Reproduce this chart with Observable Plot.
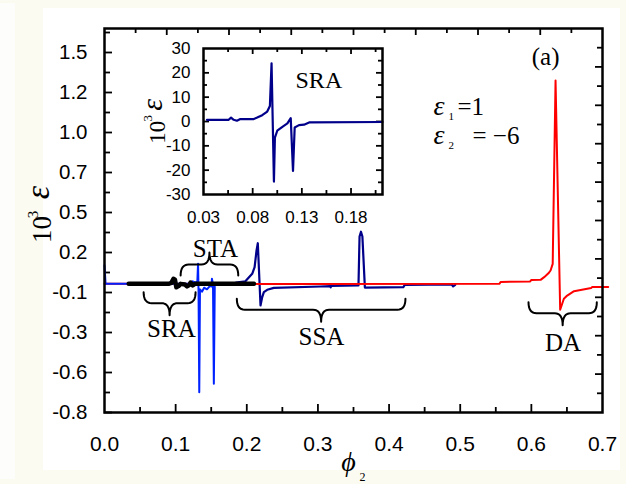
<!DOCTYPE html>
<html><head><meta charset="utf-8">
<script src="https://cdn.jsdelivr.net/npm/d3@7"></script>
<script src="https://cdn.jsdelivr.net/npm/@observablehq/plot@0.6"></script>
<style>
html,body{margin:0;padding:0;}
body{width:626px;height:484px;background:#fbfbf1;position:relative;overflow:hidden;}
#leftstrip{position:absolute;left:0;top:3px;width:15px;height:476px;background:#fdfdfb;}
#panel{position:absolute;left:43px;top:8px;width:577px;height:462px;background:#fff;}
#main,#inset{position:absolute;left:0;top:0;}
</style></head><body>
<div id="leftstrip"></div><div id="panel"></div>
<div id="main"></div><div id="inset"></div>
<script>
// ---------------- data ----------------
const redSeries = [[0,0.004],[0.3,0.003],[0.555,0.004],[0.557,0.016],[0.598,0.018],[0.600,0.028],[0.613,0.029],[0.618,0.046],[0.624,0.07],[0.627,0.0875],[0.630,0.129],[0.634,1.275],[0.6405,-0.158],[0.6457,-0.089],[0.6504,-0.069],[0.660,-0.042],[0.6785,-0.027],[0.684,-0.022],[0.6856,-0.016],[0.708,-0.015]];
const navySeries = [[0.185,0.012],[0.198,0.02],[0.2076,0.067],[0.211,0.108],[0.2137,0.2125],[0.2155,0.258],[0.2193,-0.131],[0.2217,-0.079],[0.224,-0.048],[0.2287,-0.033],[0.238,-0.021],[0.3036,-0.0125],[0.3175,-0.01],[0.318,-0.018],[0.3185,-0.008],[0.357,-0.006],[0.3585,0.3],[0.3605,0.33],[0.3625,0.3],[0.366,-0.019],[0.42,-0.017],[0.422,-0.002],[0.488,0.0],[0.49,-0.012],[0.493,-0.002]];
const blueSeries = [[0,0.12],[0.0015,0.004],[0.12,0.004],[0.124,0.02],[0.128,0.012],[0.1305,0.02],[0.1315,0.13],[0.1322,-0.05],[0.1332,-0.673],[0.1342,-0.03],[0.137,-0.045],[0.14,-0.02],[0.144,-0.03],[0.148,-0.01],[0.1505,-0.012],[0.151,0.036],[0.1525,0.0],[0.1537,-0.62],[0.155,-0.005],[0.16,0.002],[0.185,0.004]];
const blackSeries = [[0.034,0.004],[0.09,0.004],[0.094,0.01],[0.097,0.036],[0.099,0.03],[0.101,-0.017],[0.104,-0.01],[0.107,0.004],[0.113,0.0],[0.116,-0.012],[0.119,-0.004],[0.121,0.012],[0.124,-0.005],[0.127,0.004],[0.21,0.004]];
const insetSeries = [[0.0335,0.7],[0.0556,0.7],[0.058,1.6],[0.0607,0.7],[0.064,0.3],[0.0675,1.0],[0.0811,1.0],[0.0846,1.6],[0.0897,2.6],[0.0948,4.1],[0.0975,6.4],[0.0992,23.9],[0.1016,-24.7],[0.1026,-6.6],[0.105,-3.8],[0.1102,-2.2],[0.1153,-0.8],[0.1187,1.4],[0.121,-20.3],[0.1227,-2.5],[0.1271,-1.5],[0.1322,-1.3],[0.1374,-0.4],[0.212,-0.2]];

// ticks and tick labels
const xTicks = [0,0.1,0.2,0.3,0.4,0.5,0.6,0.7];
const xTickLabels = ["0.0","0.1","0.2","0.3","0.4","0.5","0.6","0.7"];
const yTicks = [-0.8,-0.55,-0.3,-0.05,0.2,0.45,0.7,0.95,1.2,1.45];
const yTickLabels = ["-0.8","-0.6","-0.3","-0.1","0.2","0.5","0.7","1.0","1.2","1.5"];
const insetXTicks = [0.03,0.08,0.13,0.18];
const insetXTickLabels = ["0.03","0.08","0.13","0.18"];
const insetYTicks = [-30,-20,-10,0,10,20,30];
const insetYTickLabels = ["-30","-20","-10","0","10","20","30"];

// annotations (data coordinates)
const braces = [
  {name:"SRA", x1:0.055, x2:0.128, y:-0.048, dir:-1},
  {name:"STA", x1:0.107, x2:0.188, y:0.056, dir:1},
  {name:"SSA", x1:0.186, x2:0.423, y:-0.089, dir:-1},
  {name:"DA",  x1:0.596, x2:0.692, y:-0.111, dir:-1}
];
const braceLabels = [
  {label:"SRA", x:0.094, y:-0.329},
  {label:"STA", x:0.156, y:0.171},
  {label:"SSA", x:0.305, y:-0.381},
  {label:"DA",  x:0.6445, y:-0.417}
];
const panelLabel = [{label:"(a)", x:0.62, y:1.369}];
const epsLines = [
  {eps:"ε", sub:"1", rhs:"=1",   x:0.4625, y:1.0625, rhsX:0.4962},
  {eps:"ε", sub:"2", rhs:"= −6", x:0.4625, y:0.881,  rhsX:0.5173}
];
const yTitle = {base:"10", sup:"3", sym:"ε", baseX:-0.0745, baseY:0.344, supX:-0.0928, supY:0.4375, symX:-0.0787, symY:0.575};
const xTitle = {sym:"ϕ", sub:"2", x:0.343, y:-1.1625, subX:0.3585, subY:-1.231};
const insetLabel = [{label:"SRA", x:0.1473, y:13.85}];
const insetYTitle = {base:"10", sup:"3", sym:"ε", baseX:-0.00916, baseY:-4.44, supX:-0.02245, supY:1.315, symX:-0.01223, symY:6.86};

// ---------------- drawing ----------------
const W = 626, H = 484;
const M = {left:104, right:24, top:28, bottom:72};
const FW = W - M.left - M.right, FH = H - M.top - M.bottom;
const serif = "'Liberation Serif','Times New Roman',serif";
const sans = "'Liberation Sans',Arial,sans-serif";
const xLab = new Map(xTicks.map((d,i)=>[d,xTickLabels[i]]));
const yLab = new Map(yTicks.map((d,i)=>[d,yTickLabels[i]]));
const pt = {x:d=>d[0], y:d=>d[1]};

function bracePoints(b){
  const kx = 0.7/FW, ky = 2.4/FH;
  const r = 8*kx, h1 = 11*ky*b.dir, h2 = 12*ky*b.dir;
  const xc = (b.x1+b.x2)/2, yE = b.y, yM = yE+h1, yT = yM+h2;
  const quad = (p0,p1,p2,n=8)=>d3.range(n+1).map(i=>{const t=i/n;return [(1-t)**2*p0[0]+2*(1-t)*t*p1[0]+t*t*p2[0],(1-t)**2*p0[1]+2*(1-t)*t*p1[1]+t*t*p2[1]];});
  return [
    ...quad([b.x1,yE],[b.x1,yM],[b.x1+r,yM]),
    ...quad([xc-r,yM],[xc,yM],[xc,yT]),
    ...quad([xc,yT],[xc,yM],[xc+r,yM]),
    ...quad([b.x2-r,yM],[b.x2,yM],[b.x2,yE])
  ].map(p=>({x:p[0], y:p[1], name:b.name}));
}
const bracePts = braces.flatMap(bracePoints);

// inward frame ticks
const ts = {stroke:"black", strokeWidth:1.8};
const leftMaj = yTicks, leftMin = yTicks.map(d=>d+0.125);
const rightT = d3.range(1,20).map(k=>-0.8+0.12*k);
const botT = d3.range(1,14).map(k=>k*0.05);
const topT = d3.range(1,16).map(k=>k*0.04375);

const main = Plot.plot({
  width:W, height:H, marginLeft:M.left, marginRight:M.right, marginTop:M.top, marginBottom:M.bottom,
  style:{background:"transparent", fontFamily:sans, fontSize:"20px", color:"black", overflow:"visible"},
  x:{domain:[0,0.7]}, y:{domain:[-0.8,1.6]},
  marks:[
    Plot.axisX({ticks:xTicks, tickSize:0, tickPadding:24, tickFormat:d=>xLab.get(d), fontSize:21, fontFamily:sans, label:null}),
    Plot.axisY({ticks:yTicks, tickSize:0, tickPadding:17, tickFormat:d=>yLab.get(d), fontSize:20.5, fontFamily:sans, label:null}),
    Plot.tickY(leftMaj, {y:d=>d, insetRight:FW-8, ...ts}),
    Plot.tickY(leftMin, {y:d=>d, insetRight:FW-6, ...ts}),
    Plot.tickY(rightT.filter((d,i)=>i%2===1), {y:d=>d, insetLeft:FW-7, ...ts}),
    Plot.tickY(rightT.filter((d,i)=>i%2===0), {y:d=>d, insetLeft:FW-5, ...ts}),
    Plot.tickX(botT.filter((d,i)=>i%2===1), {x:d=>d, insetTop:FH-8, ...ts}),
    Plot.tickX(botT.filter((d,i)=>i%2===0), {x:d=>d, insetTop:FH-5, ...ts}),
    Plot.tickX(topT.filter((d,i)=>i%2===1), {x:d=>d, insetBottom:FH-7, ...ts}),
    Plot.tickX(topT.filter((d,i)=>i%2===0), {x:d=>d, insetBottom:FH-5, ...ts}),
    Plot.line(navySeries, {...pt, stroke:"#00008b", strokeWidth:2.2}),
    Plot.line(redSeries, {...pt, stroke:"#ff0000", strokeWidth:2}),
    Plot.line(blueSeries, {...pt, stroke:"#0022ff", strokeWidth:2}),
    Plot.line(blackSeries, {...pt, stroke:"#000", strokeWidth:4.5, strokeLinecap:"round"}),
    Plot.line(bracePts, {x:"x", y:"y", z:"name", stroke:"black", strokeWidth:2}),
    Plot.text(braceLabels, {x:"x", y:"y", text:"label", fontFamily:serif, fontSize:25, textAnchor:"middle", lineAnchor:"bottom", fill:"black"}),
    Plot.text(panelLabel, {x:"x", y:"y", text:"label", fontFamily:serif, fontSize:25, textAnchor:"middle", lineAnchor:"bottom", fill:"black"}),
    Plot.text(epsLines, {x:"x", y:"y", text:"eps", fontFamily:serif, fontStyle:"italic", fontSize:28, textAnchor:"start", lineAnchor:"bottom", fill:"black"}),
    Plot.text(epsLines, {x:"x", y:"y", text:"sub", dx:15, dy:5, fontFamily:serif, fontSize:11, textAnchor:"start", lineAnchor:"bottom", fill:"black"}),
    Plot.text(epsLines, {x:"rhsX", y:"y", text:"rhs", fontFamily:serif, fontSize:25, textAnchor:"start", lineAnchor:"bottom", fill:"black"}),
    Plot.text([yTitle], {x:"baseX", y:"baseY", text:"base", rotate:-90, fontFamily:serif, fontSize:27, textAnchor:"middle", lineAnchor:"bottom", fill:"black"}),
    Plot.text([yTitle], {x:"supX", y:"supY", text:"sup", rotate:-90, fontFamily:serif, fontSize:15, textAnchor:"middle", lineAnchor:"bottom", fill:"black"}),
    Plot.text([yTitle], {x:"symX", y:"symY", text:"sym", rotate:-90, fontFamily:serif, fontStyle:"italic", fontSize:34, textAnchor:"middle", lineAnchor:"bottom", fill:"black"}),
    Plot.text([xTitle], {x:"x", y:"y", text:"sym", fontFamily:serif, fontStyle:"italic", fontSize:28, textAnchor:"middle", lineAnchor:"bottom", fill:"black"}),
    Plot.text([xTitle], {x:"subX", y:"subY", text:"sub", fontFamily:serif, fontSize:12, textAnchor:"start", lineAnchor:"bottom", fill:"black"}),
    Plot.frame({stroke:"black", strokeWidth:2.5})
  ]
});
document.getElementById("main").appendChild(main);

// ---------------- inset ----------------
const IM = {left:203, right:W-382, top:48, bottom:H-194};
const IFW = W - IM.left - IM.right, IFH = H - IM.top - IM.bottom;
const ixLab = new Map(insetXTicks.map((d,i)=>[d,insetXTickLabels[i]]));
const iyLab = new Map(insetYTicks.map((d,i)=>[d,insetYTickLabels[i]]));
const iyMaj = d3.range(-20,21,10), iyMin = d3.range(-25,26,10);
const ixAll = d3.range(1,8).map(k=>0.03+0.025*k);
const ixMaj = ixAll.filter((d,i)=>i%2===1), ixMin = ixAll.filter((d,i)=>i%2===0);
const inset = Plot.plot({
  width:W, height:H, marginLeft:IM.left, marginRight:IM.right, marginTop:IM.top, marginBottom:IM.bottom,
  style:{background:"transparent", fontFamily:sans, fontSize:"17px", color:"black", overflow:"visible"},
  x:{domain:[0.03,0.212]}, y:{domain:[-30,30]},
  marks:[
    Plot.axisX({ticks:insetXTicks, tickSize:0, tickPadding:16.5, tickFormat:d=>ixLab.get(d), fontSize:17, fontFamily:sans, label:null}),
    Plot.axisY({ticks:insetYTicks, tickSize:0, tickPadding:13, tickFormat:d=>iyLab.get(d), fontSize:17, fontFamily:sans, label:null}),
    Plot.tickY(iyMaj, {y:d=>d, insetRight:IFW-6, ...ts}),
    Plot.tickY(iyMin, {y:d=>d, insetRight:IFW-4, ...ts}),
    Plot.tickY(iyMaj, {y:d=>d, insetLeft:IFW-6, ...ts}),
    Plot.tickY(iyMin, {y:d=>d, insetLeft:IFW-4, ...ts}),
    Plot.tickX(ixMaj, {x:d=>d, insetTop:IFH-6, ...ts}),
    Plot.tickX(ixMin, {x:d=>d, insetTop:IFH-4, ...ts}),
    Plot.tickX(ixMaj, {x:d=>d, insetBottom:IFH-6, ...ts}),
    Plot.tickX(ixMin, {x:d=>d, insetBottom:IFH-4, ...ts}),
    Plot.line(insetSeries, {...pt, stroke:"#00008b", strokeWidth:2.2}),
    Plot.text(insetLabel, {x:"x", y:"y", text:"label", fontFamily:serif, fontSize:24, textAnchor:"middle", lineAnchor:"bottom", fill:"black"}),
    Plot.text([insetYTitle], {x:"baseX", y:"baseY", text:"base", rotate:-90, fontFamily:serif, fontSize:23, textAnchor:"middle", lineAnchor:"bottom", fill:"black"}),
    Plot.text([insetYTitle], {x:"supX", y:"supY", text:"sup", rotate:-90, fontFamily:serif, fontSize:13, textAnchor:"middle", lineAnchor:"bottom", fill:"black"}),
    Plot.text([insetYTitle], {x:"symX", y:"symY", text:"sym", rotate:-90, fontFamily:serif, fontStyle:"italic", fontSize:30, textAnchor:"middle", lineAnchor:"bottom", fill:"black"}),
    Plot.frame({stroke:"black", strokeWidth:2.5})
  ]
});
document.getElementById("inset").appendChild(inset);
</script></body></html>
